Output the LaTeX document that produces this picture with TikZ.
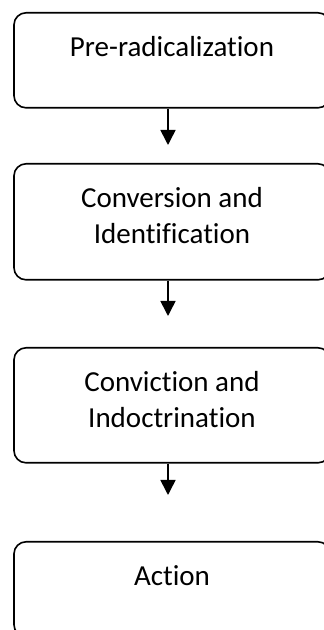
\documentclass[tikz,border=0pt]{standalone}
\usepackage{fontspec}
\setmainfont[Ligatures=NoCommon]{Carlito}
\usetikzlibrary{arrows.meta}
\tikzset{
  stage/.style={draw, line width=1.6pt, rounded corners=12pt, anchor=north,
    text width=316pt, inner xsep=0pt, inner ysep=0pt, align=flush center,
    text height=43.5pt, font=\fontsize{29}{36.5}\selectfont},
  flow/.style={line width=1.6pt, -{Triangle[length=15pt,width=15pt]}}
}
\begin{document}
\begin{tikzpicture}[x=1pt,y=1pt]
	    \useasboundingbox (0,0) rectangle (324,630);
	    \node[stage, text depth=51.5pt] (b1) at (172,618) {Pre-radicalization};
	    \node[stage, text depth=72.5pt] (b2) at (172,467) {Conversion and\\Identification};
	    \node[stage, text depth=71.5pt] (b3) at (172,283) {Conviction and\\Indoctrination};
	    \node[stage, text depth=51.5pt] (b4) at (172,89) {Action};
	    \coordinate (e1) at (168,485);
	    \coordinate (e2) at (168,314);
	    \coordinate (e3) at (168,135);
	    \draw[flow] (b1.south -| e1) -- (e1);
	    \draw[flow] (b2.south -| e2) -- (e2);
	    \draw[flow] (b3.south -| e3) -- (e3);
	\end{tikzpicture}
\end{document}
